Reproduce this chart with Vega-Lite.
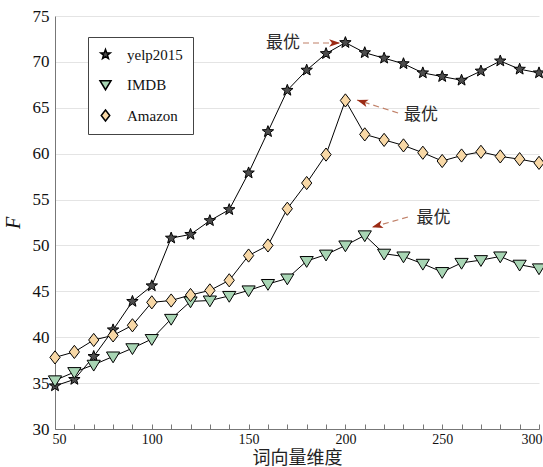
{
  "$schema": "https://vega.github.io/schema/vega-lite/v6.json",
  "width": 484,
  "height": 413,
  "autosize": "none",
  "padding": {"left": 55, "top": 16, "right": 4, "bottom": 38},
  "config": {"view": {"stroke": null}, "font": "Liberation Serif"},
  "resolve": {"axis": {"x": "independent"}},
  "datasets": {
    "main": [
      {"x": 50, "F": 34.7, "series": "yelp2015"},
      {"x": 60, "F": 35.4, "series": "yelp2015"},
      {"x": 70, "F": 37.9, "series": "yelp2015"},
      {"x": 80, "F": 40.8, "series": "yelp2015"},
      {"x": 90, "F": 43.9, "series": "yelp2015"},
      {"x": 100, "F": 45.6, "series": "yelp2015"},
      {"x": 110, "F": 50.8, "series": "yelp2015"},
      {"x": 120, "F": 51.2, "series": "yelp2015"},
      {"x": 130, "F": 52.7, "series": "yelp2015"},
      {"x": 140, "F": 53.9, "series": "yelp2015"},
      {"x": 150, "F": 57.9, "series": "yelp2015"},
      {"x": 160, "F": 62.4, "series": "yelp2015"},
      {"x": 170, "F": 66.9, "series": "yelp2015"},
      {"x": 180, "F": 69.1, "series": "yelp2015"},
      {"x": 190, "F": 70.9, "series": "yelp2015"},
      {"x": 200, "F": 72.1, "series": "yelp2015"},
      {"x": 210, "F": 71.0, "series": "yelp2015"},
      {"x": 220, "F": 70.4, "series": "yelp2015"},
      {"x": 230, "F": 69.8, "series": "yelp2015"},
      {"x": 240, "F": 68.8, "series": "yelp2015"},
      {"x": 250, "F": 68.4, "series": "yelp2015"},
      {"x": 260, "F": 68.0, "series": "yelp2015"},
      {"x": 270, "F": 69.0, "series": "yelp2015"},
      {"x": 280, "F": 70.1, "series": "yelp2015"},
      {"x": 290, "F": 69.2, "series": "yelp2015"},
      {"x": 300, "F": 68.8, "series": "yelp2015"},
      {"x": 50, "F": 35.3, "series": "IMDB"},
      {"x": 60, "F": 36.2, "series": "IMDB"},
      {"x": 70, "F": 37.0, "series": "IMDB"},
      {"x": 80, "F": 37.9, "series": "IMDB"},
      {"x": 90, "F": 38.8, "series": "IMDB"},
      {"x": 100, "F": 39.8, "series": "IMDB"},
      {"x": 110, "F": 42.0, "series": "IMDB"},
      {"x": 120, "F": 43.9, "series": "IMDB"},
      {"x": 130, "F": 44.0, "series": "IMDB"},
      {"x": 140, "F": 44.5, "series": "IMDB"},
      {"x": 150, "F": 45.1, "series": "IMDB"},
      {"x": 160, "F": 45.8, "series": "IMDB"},
      {"x": 170, "F": 46.4, "series": "IMDB"},
      {"x": 180, "F": 48.3, "series": "IMDB"},
      {"x": 190, "F": 49.0, "series": "IMDB"},
      {"x": 200, "F": 50.0, "series": "IMDB"},
      {"x": 210, "F": 51.1, "series": "IMDB"},
      {"x": 220, "F": 49.1, "series": "IMDB"},
      {"x": 230, "F": 48.8, "series": "IMDB"},
      {"x": 240, "F": 48.0, "series": "IMDB"},
      {"x": 250, "F": 47.1, "series": "IMDB"},
      {"x": 260, "F": 48.1, "series": "IMDB"},
      {"x": 270, "F": 48.4, "series": "IMDB"},
      {"x": 280, "F": 48.8, "series": "IMDB"},
      {"x": 290, "F": 47.9, "series": "IMDB"},
      {"x": 300, "F": 47.5, "series": "IMDB"},
      {"x": 50, "F": 37.8, "series": "Amazon"},
      {"x": 60, "F": 38.4, "series": "Amazon"},
      {"x": 70, "F": 39.7, "series": "Amazon"},
      {"x": 80, "F": 40.2, "series": "Amazon"},
      {"x": 90, "F": 41.3, "series": "Amazon"},
      {"x": 100, "F": 43.8, "series": "Amazon"},
      {"x": 110, "F": 44.0, "series": "Amazon"},
      {"x": 120, "F": 44.6, "series": "Amazon"},
      {"x": 130, "F": 45.1, "series": "Amazon"},
      {"x": 140, "F": 46.2, "series": "Amazon"},
      {"x": 150, "F": 48.9, "series": "Amazon"},
      {"x": 160, "F": 50.0, "series": "Amazon"},
      {"x": 170, "F": 54.0, "series": "Amazon"},
      {"x": 180, "F": 56.8, "series": "Amazon"},
      {"x": 190, "F": 59.9, "series": "Amazon"},
      {"x": 200, "F": 65.8, "series": "Amazon"},
      {"x": 210, "F": 62.1, "series": "Amazon"},
      {"x": 220, "F": 61.5, "series": "Amazon"},
      {"x": 230, "F": 60.9, "series": "Amazon"},
      {"x": 240, "F": 60.1, "series": "Amazon"},
      {"x": 250, "F": 59.2, "series": "Amazon"},
      {"x": 260, "F": 59.8, "series": "Amazon"},
      {"x": 270, "F": 60.2, "series": "Amazon"},
      {"x": 280, "F": 59.7, "series": "Amazon"},
      {"x": 290, "F": 59.4, "series": "Amazon"},
      {"x": 300, "F": 59.0, "series": "Amazon"}
    ],
    "notes": [
      {"series": "yelp2015", "text": "最优", "tx": 167.8, "ty": 72.06, "sx": 178.1, "sy": 72.06, "hx": 197.3, "hy": 72.06},
      {"series": "Amazon", "text": "最优", "tx": 239.0, "ty": 64.2, "sx": 227.2, "sy": 64.43, "hx": 206.0, "hy": 65.85},
      {"series": "IMDB", "text": "最优", "tx": 245.5, "ty": 53.0, "sx": 232.3, "sy": 53.1, "hx": 213.7, "hy": 51.98}
    ]
  },
  "layer": [
    {
      "data": {"name": "main"},
      "mark": {"type": "line", "color": "black", "strokeWidth": 1},
      "encoding": {
        "x": {
          "field": "x", "type": "quantitative",
          "scale": {"domain": [50, 300], "nice": false, "zero": false},
          "axis": {
            "orient": "bottom",
            "values": [50, 100, 150, 200, 250, 300],
            "labelOverlap": false,
            "grid": false,
            "tickSize": -5,
            "tickColor": "#777",
            "domainColor": "#777",
            "labelFont": "Liberation Serif",
            "labelFontSize": 14,
            "labelColor": "#111",
            "labelPadding": 8,
            "labelFlush": true,
            "labelFlushOffset": 3,
            "title": "词向量维度",
            "titleFont": "Noto Sans CJK SC",
            "titleFontWeight": "normal",
            "titleFontSize": 18,
            "titleColor": "#222",
            "titlePadding": 3
          }
        },
        "y": {
          "field": "F", "type": "quantitative",
          "scale": {"domain": [30, 75], "nice": false, "zero": false},
          "axis": {
            "values": [30,35,40,45,50,55,60,65,70,75],
            "grid": true,
            "gridColor": "#e4e4e4",
            "ticks": false,
            "domainColor": "#777",
            "labelFont": "Liberation Serif",
            "labelFontSize": 17,
            "labelColor": "#111",
            "labelPadding": 6,
            "title": "F",
            "titleFont": "Liberation Serif",
            "titleFontStyle": "italic",
            "titleFontWeight": "normal",
            "titleFontSize": 20,
            "titleColor": "#111",
            "titlePadding": 9
          }
        },
        "detail": {"field": "series"}
      }
    },
    {
      "data": {"name": "main"},
      "mark": {"type": "point", "filled": true, "opacity": 1, "stroke": "black", "strokeWidth": 1, "size": 144},
      "encoding": {
        "x": {
          "field": "x", "type": "quantitative",
          "axis": {
            "orient": "bottom",
            "values": [60,70,80,90,110,120,130,140,160,170,180,190,210,220,230,240,260,270,280,290],
            "labels": false,
            "domain": false,
            "grid": false,
            "tickSize": -5,
            "tickColor": "#777",
            "title": null
          }
        },
        "y": {"field": "F", "type": "quantitative"},
        "fill": {
          "field": "series", "type": "nominal",
          "scale": {"domain": ["yelp2015", "IMDB", "Amazon"], "range": ["#4d4d4d", "#a8d5b4", "#f8d8a6"]},
          "legend": {
            "title": null,
            "orient": "none",
            "legendX": 33,
            "legendY": 21,
            "direction": "vertical",
            "fillColor": "white",
            "strokeColor": "#444",
            "padding": 10,
            "rowPadding": 14,
            "labelFont": "Liberation Serif",
            "labelFontSize": 15,
            "labelColor": "#111",
            "labelOffset": 14
          }
        },
        "shape": {
          "field": "series", "type": "nominal",
          "scale": {
            "domain": ["yelp2015", "IMDB", "Amazon"],
            "range": [
              "M0,-1L0.247,-0.34L0.951,-0.309L0.399,0.13L0.588,0.809L0,0.42L-0.588,0.809L-0.399,0.13L-0.951,-0.309L-0.247,-0.34Z",
              "M-1.1,-0.75L1.1,-0.75L0,1.05Z",
              "M0,-1.1L0.85,0L0,1.1L-0.85,0Z"
            ]
          },
          "legend": {
            "title": null,
            "orient": "none",
            "legendX": 33,
            "legendY": 21,
            "direction": "vertical",
            "fillColor": "white",
            "strokeColor": "#444",
            "padding": 10,
            "rowPadding": 14,
            "labelFont": "Liberation Serif",
            "labelFontSize": 15,
            "labelColor": "#111",
            "labelOffset": 14
          }
        }
      }
    },
    {
      "data": {"name": "notes"},
      "mark": {"type": "rule", "color": "#c08068", "strokeWidth": 1.2, "strokeDash": [6, 4]},
      "encoding": {
        "x": {"field": "sx", "type": "quantitative", "axis": null},
        "y": {"field": "sy", "type": "quantitative"},
        "x2": {"field": "hx"},
        "y2": {"field": "hy"}
      }
    },
    {
      "data": {"name": "notes"},
      "transform": [{"filter": "datum.series === 'yelp2015'"}],
      "mark": {"type": "point", "shape": "M0,0L-2,-0.7L-1.5,0L-2,0.7Z", "size": 121, "filled": true, "color": "#9b2a14", "opacity": 1, "angle": 0},
      "encoding": {
        "x": {"field": "hx", "type": "quantitative", "axis": null},
        "y": {"field": "hy", "type": "quantitative"}
      }
    },
    {
      "data": {"name": "notes"},
      "transform": [{"filter": "datum.series === 'Amazon'"}],
      "mark": {"type": "point", "shape": "M0,0L-2,-0.7L-1.5,0L-2,0.7Z", "size": 121, "filled": true, "color": "#9b2a14", "opacity": 1, "angle": 197.6},
      "encoding": {
        "x": {"field": "hx", "type": "quantitative", "axis": null},
        "y": {"field": "hy", "type": "quantitative"}
      }
    },
    {
      "data": {"name": "notes"},
      "transform": [{"filter": "datum.series === 'IMDB'"}],
      "mark": {"type": "point", "shape": "M0,0L-2,-0.7L-1.5,0L-2,0.7Z", "size": 121, "filled": true, "color": "#9b2a14", "opacity": 1, "angle": 164.5},
      "encoding": {
        "x": {"field": "hx", "type": "quantitative", "axis": null},
        "y": {"field": "hy", "type": "quantitative"}
      }
    },
    {
      "data": {"name": "notes"},
      "mark": {"type": "text", "font": "Noto Sans CJK SC", "fontSize": 17, "color": "#2a2a2a", "align": "center", "baseline": "middle"},
      "encoding": {
        "x": {"field": "tx", "type": "quantitative", "axis": null},
        "y": {"field": "ty", "type": "quantitative"},
        "text": {"field": "text"}
      }
    }
  ]
}
